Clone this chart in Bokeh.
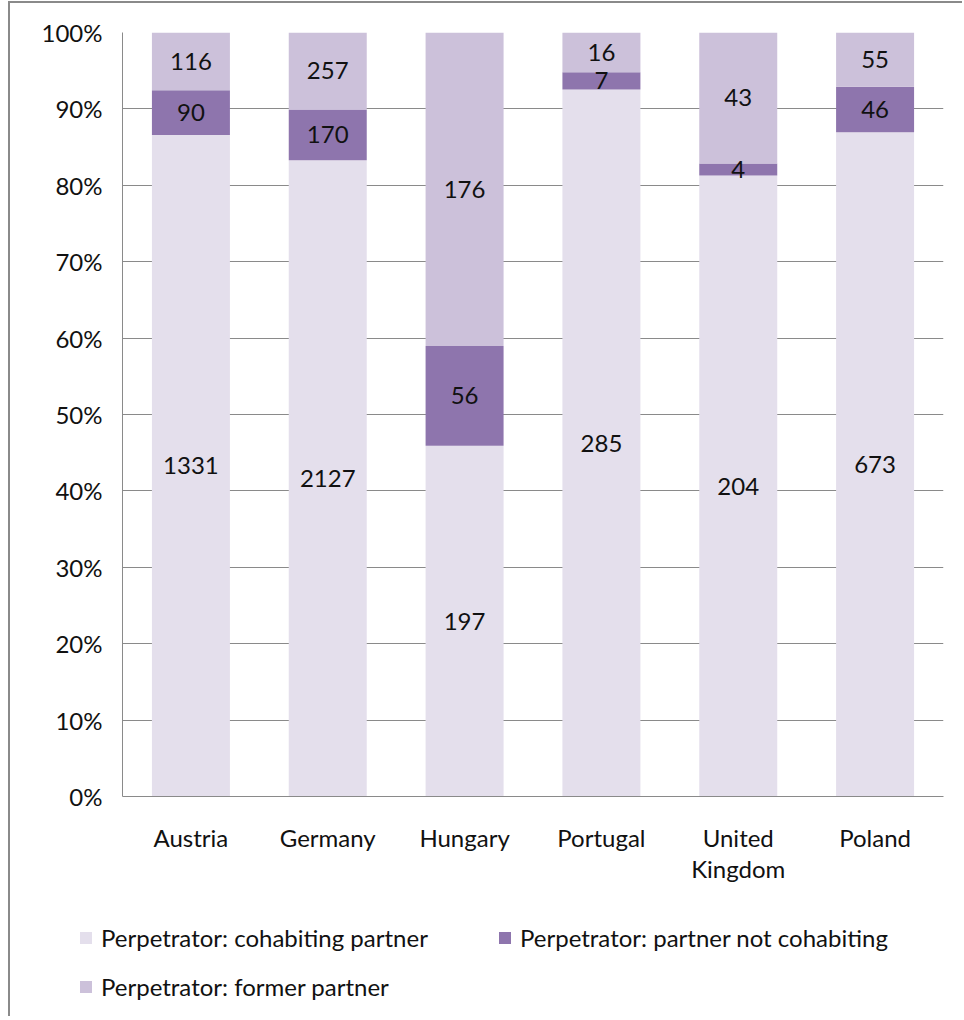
from bokeh.plotting import figure
from bokeh.layouts import column
from bokeh.models import (ColumnDataSource, FactorRange, Range1d, FixedTicker,
                          NumeralTickFormatter, Legend, LegendItem)
from bokeh.core.properties import value
from bokeh.embed import file_html
from bokeh.resources import INLINE

countries = ["Austria", "Germany", "Hungary", "Portugal", "United\nKingdom", "Poland"]
cohabiting = [1331, 2127, 197, 285, 204, 673]
not_cohabiting = [90, 170, 56, 7, 4, 46]
former = [116, 257, 176, 16, 43, 55]

series_names = ["Perpetrator: cohabiting partner",
                "Perpetrator: partner not cohabiting",
                "Perpetrator: former partner"]
colors = ["#E4DFEC", "#8E75AD", "#CCC1DA"]

totals = [a + b + c for a, b, c in zip(cohabiting, not_cohabiting, former)]
f_coh = [a / t for a, t in zip(cohabiting, totals)]
f_not = [b / t for b, t in zip(not_cohabiting, totals)]
f_for = [c / t for c, t in zip(former, totals)]

src = ColumnDataSource(dict(country=countries, coh=f_coh, notc=f_not, form=f_for))

FONT = "Lato"
FS = "24px"
BORDER = "2px solid #8a8a8a"

p = figure(x_range=FactorRange(*countries), y_range=Range1d(0, 1),
           width=954, height=895, output_backend="svg", toolbar_location=None,
           min_border_left=112, min_border_top=29, min_border_right=21,
           min_border_bottom=102,
           styles={"border-left": BORDER, "border-top": BORDER})
p.x_range.range_padding = 0

rs = p.vbar_stack(["coh", "notc", "form"], x="country", width=0.57, source=src,
                  color=colors, line_color=None)

# data labels at segment centres
lab_x, lab_y, lab_t = [], [], []
for i, c in enumerate(countries):
    base = 0.0
    for frac, cnt in ((f_coh[i], cohabiting[i]), (f_not[i], not_cohabiting[i]), (f_for[i], former[i])):
        lab_x.append(c)
        lab_y.append(base + frac / 2)
        lab_t.append(str(cnt))
        base += frac
lsrc = ColumnDataSource(dict(x=lab_x, y=lab_y, t=lab_t))
p.text(x="x", y="y", text="t", source=lsrc, text_align="center", text_baseline="middle",
       text_font=value(FONT), text_font_size=FS, text_color="#111111")

# axes
p.yaxis.ticker = FixedTicker(ticks=[i / 10 for i in range(11)])
p.yaxis.formatter = NumeralTickFormatter(format="0%")
for ax in (p.xaxis[0], p.yaxis[0]):
    ax.major_label_text_font = FONT
    ax.major_label_text_font_size = FS
    ax.major_label_text_color = "#111111"
    ax.axis_line_color = "#8a8a8a"
    ax.major_tick_line_color = None
    ax.minor_tick_line_color = None
    ax.major_tick_out = 0
    ax.major_tick_in = 0
p.yaxis.major_label_standoff = 20
p.xaxis.major_label_standoff = 26
p.xaxis.major_label_text_line_height = 1.1

p.xgrid.grid_line_color = None
p.ygrid.grid_line_color = "#8a8a8a"
p.ygrid.grid_line_width = 1
p.outline_line_color = None
p.background_fill_color = "white"
p.border_fill_color = "white"

# legend panel (separate figure below the chart)
p2 = figure(width=954, height=120, output_backend="svg", toolbar_location=None,
            min_border=0, x_range=Range1d(0, 1), y_range=Range1d(0, 1),
            styles={"border-left": BORDER})
p2.frame_align = False
p2.axis.visible = False
p2.grid.visible = False
p2.outline_line_color = None
offscreen = ColumnDataSource(dict(x=[5], top=[5]))
lr = [p2.vbar(x="x", top="top", width=0.5, source=offscreen, color=colors[i], line_color=None)
      for i in range(3)]
items = [LegendItem(label=series_names[i], renderers=[lr[i]]) for i in range(3)]
legend = Legend(items=items, location=(68, 15), orientation="horizontal", ncols=2,
                label_text_font=FONT, label_text_font_size=FS, label_text_color="#111111",
                glyph_width=15, glyph_height=15, label_standoff=8, label_width=376,
                label_height=20, spacing=20, padding=0, margin=0,
                border_line_color=None, background_fill_alpha=0)
p2.add_layout(legend, "center")

layout = column(p, p2, spacing=0, styles={"margin-left": "8px", "margin-top": "1px"})

open("out.html", "w").write(file_html(layout, INLINE))
